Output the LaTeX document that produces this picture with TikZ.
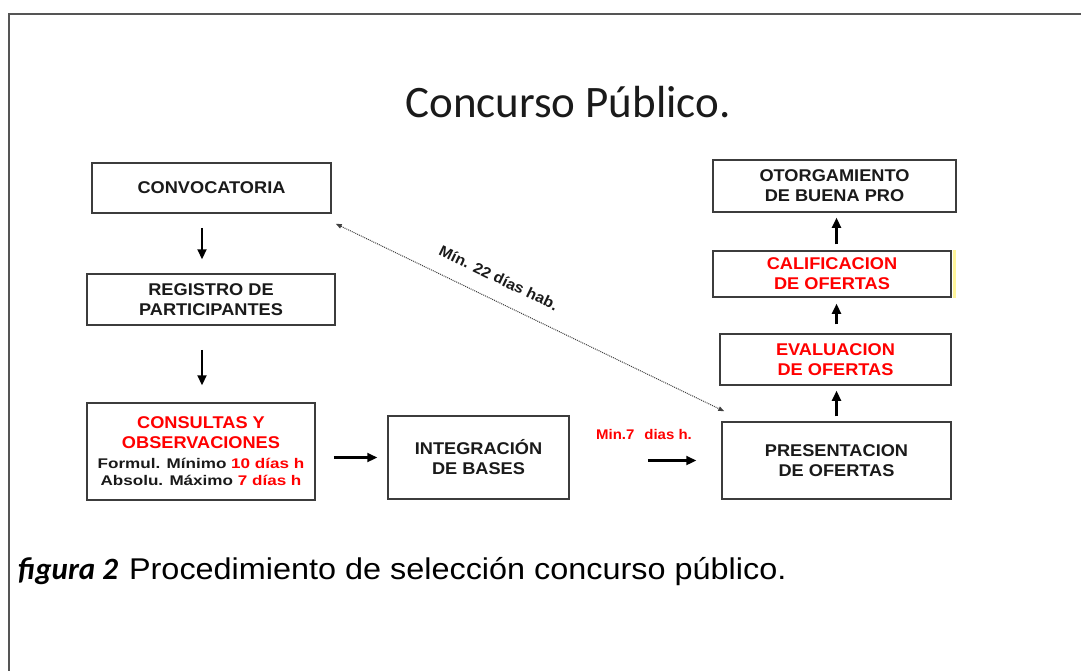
\documentclass[tikz,border=0pt]{standalone}
\usepackage{fontspec}
\setmainfont{Liberation Sans}
\newfontfamily\bxfont{Liberation Sans}[FakeStretch=1.07]
\newfontfamily\bxwide{Liberation Sans}[FakeStretch=1.22]
\newfontfamily\ttlfont{Carlito}
\newfontfamily\capfont{Liberation Sans}[FakeStretch=1.08]
\newfontfamily\capbfont{Carlito}
\usetikzlibrary{arrows.meta}
\definecolor{txt}{HTML}{1A1A1A}
\definecolor{edge}{HTML}{3C3C3C}
\definecolor{frm}{HTML}{555555}
\definecolor{rd}{HTML}{FF0000}
\definecolor{ylw}{HTML}{FFF59A}
\begin{document}
\begin{tikzpicture}[x=1pt,y=-1pt,
  box/.style={draw=edge, line width=1.5pt, fill=white, inner sep=0pt, align=center, text=txt,
    font=\bxfont\bfseries\fontsize{17}{20}\selectfont},
  arr/.style={line width=2.2pt, draw=black, -{Triangle[length=10pt,width=9pt]}},
  dots/.style={densely dotted, line width=1pt, draw=black!75,
    {Triangle[length=6pt,width=4.5pt]}-{Triangle[length=6pt,width=4.5pt]}},
  lbl/.style={inner sep=0pt, text=txt, font=\bxfont\bfseries\fontsize{14}{16}\selectfont}
]
\useasboundingbox[fill=white] (0,0) rectangle (1081,670);
\draw[frm, line width=2.5pt] (9,675) -- (9,14) -- (1086,14);

\node[anchor=base, inner sep=0pt, text=txt, font=\ttlfont\fontsize{45}{54}\selectfont] (title) at (568,117) {Concurso Público.};

\node[box, minimum width=239pt, minimum height=50pt] (conv) at (211.5,188) {CONVOCATORIA};
\node[box, minimum width=248pt, minimum height=51pt] (reg) at (211,299.5) {REGISTRO DE\\PARTICIPANTES};
\node[box, minimum width=228pt, minimum height=97pt] (cons) at (201,451.5)
  {\textcolor{rd}{CONSULTAS Y}\\\textcolor{rd}{OBSERVACIONES}\\
   {\bxwide\bfseries\fontsize{14}{16}\selectfont Formul. Mínimo \textcolor{rd}{10 días h}}\\[-3pt]
   {\bxwide\bfseries\fontsize{14}{16}\selectfont Absolu. Máximo \textcolor{rd}{7 días h}}};
\node[box, minimum width=181pt, minimum height=83pt] (integ) at (478.5,457.5) {INTEGRACIÓN\\DE BASES};
\node[box, minimum width=229pt, minimum height=77pt] (pres) at (836.5,460.5) {PRESENTACION\\DE OFERTAS};
\node[box, minimum width=231pt, minimum height=51pt, text=rd] (eval) at (835.5,359.5) {EVALUACION\\DE OFERTAS};
\node[box, minimum width=238pt, minimum height=46pt, text=rd] (calif) at (832,274) {CALIFICACION\\DE OFERTAS};
\fill[ylw] ([xshift=0.8pt]calif.north east) rectangle ([xshift=4pt]calif.south east);
\node[box, minimum width=243pt, minimum height=52pt] (otorg) at (834.5,186) {OTORGAMIENTO\\DE BUENA PRO};

\coordinate (c1) at ([xshift=-9.5pt]conv.south);
\coordinate (c2) at ([xshift=-9pt]reg.south);
\draw[arr, shorten <=14pt, shorten >=14pt] (c1) -- (c1 |- reg.north);
\draw[arr, shorten <=24pt, shorten >=17pt] (c2) -- (c2 |- cons.north);
\draw[arr, shorten <=18pt, shorten >=10pt] (integ.west -| cons.east) -- (integ.west);
\draw[arr, shorten <=78pt, shorten >=25pt] (pres.west -| integ.east) -- (pres.west);
\node[lbl, text=rd] (m7) at (644,434) {Min.7\hspace{10pt}dias h.};
\draw[arr, shorten <=5pt, shorten >=5pt] (pres.north) -- (pres.north |- eval.south);
\draw[arr, shorten <=9pt, shorten >=6pt] (pres.north |- eval.north) -- (pres.north |- calif.south);
\draw[arr, shorten <=6pt, shorten >=5pt] (pres.north |- calif.north) -- (pres.north |- otorg.south);

\draw[dots] ([shift={(4,10)}]conv.south east) -- ([shift={(3,-10)}]pres.north west)
  node[pos=0.395, sloped, above=16pt, lbl, font=\bxfont\bfseries\fontsize{15}{17}\selectfont] (d22) {Mín. 22 días hab.};

\node[anchor=base west, inner sep=0pt, text=black] (cap) at (18,579)
  {{\capbfont\bfseries\itshape\fontsize{31}{36}\selectfont figura 2}\hspace{11pt}{\capfont\fontsize{30}{36}\selectfont Procedimiento de selección concurso público.}};
\end{tikzpicture}
\end{document}
